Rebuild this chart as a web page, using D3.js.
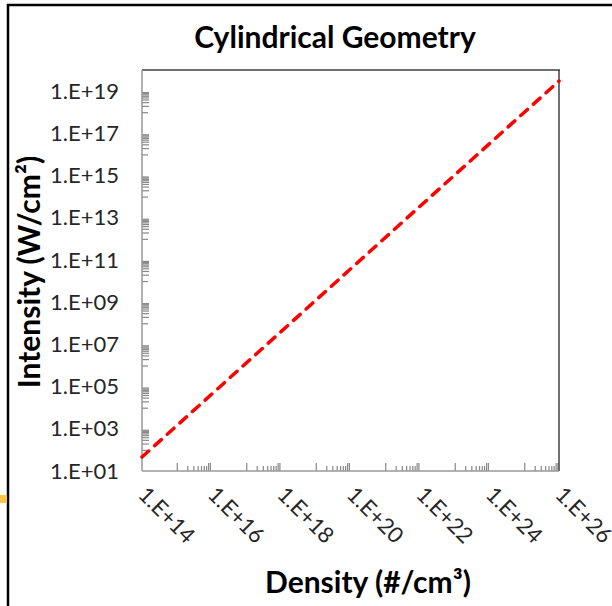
<!DOCTYPE html>
<html>
<head>
<meta charset="UTF-8">
<title>Cylindrical Geometry</title>
<script src="https://cdnjs.cloudflare.com/ajax/libs/d3/7.8.5/d3.min.js"></script>
<style>
    body { margin: 0; background: #fff; }
    svg { display: block; font-family: Lato, "Open Sans", sans-serif; }
    .tick-label { font-size: 22px; fill: #262626; }
    .axis-title { font-weight: bold; fill: #000; }
    .chart-title { font-size: 30px; font-weight: bold; fill: #000; }
    .minor line { stroke: #888; stroke-width: 1.2px; }
</style>
</head>
<body>
<div id="chart"></div>
<script>
// data
const densities = [1e14, 1e18, 1e22, 1e26];
const intensities = [46, 4.0e7, 3.5e13, 3.0e19];

const xMajorTicks = [1e14, 1e16, 1e18, 1e20, 1e22, 1e24, 1e26];
const yMajorTicks = [1e1, 1e3, 1e5, 1e7, 1e9, 1e11, 1e13, 1e15, 1e17, 1e19];

const width = 612, height = 606;
const plot = { left: 142, right: 559, top: 70, bottom: 471 };

const svg = d3.select("#chart").append("svg")
    .attr("width", width)
    .attr("height", height);

const x = d3.scaleLog().domain([1e14, 1e26]).range([plot.left, plot.right]);
const y = d3.scaleLog().domain([1e1, 1e20]).range([plot.bottom, plot.top]);

const fmt = v => {
    const e = Math.round(Math.log10(v));
    return "1.E+" + String(e).padStart(2, "0");
};

// outer frame bits
svg.append("line").attr("x1", 8).attr("x2", 8).attr("y1", 4).attr("y2", height)
    .attr("stroke", "#000").attr("stroke-width", 2.5);
svg.append("line").attr("x1", 7).attr("x2", width).attr("y1", 5).attr("y2", 5)
    .attr("stroke", "#000").attr("stroke-width", 2.5);
svg.append("rect").attr("x", 0).attr("y", 495).attr("width", 7).attr("height", 8)
    .attr("fill", "#fcc24a");

// minor ticks: 1..9 x 10^(e-1) below each labelled decade
const minorOf = majors => majors.slice(1).flatMap(m =>
    d3.range(1, 10).map(j => j * m / 10));

const xMinor = minorOf(xMajorTicks);
const yMinor = minorOf(yMajorTicks);
const mult = d => Math.round(d / Math.pow(10, Math.floor(Math.log10(d) + 1e-9)));

svg.append("g")
    .attr("class", "minor")
    .attr("transform", `translate(0,${plot.bottom})`)
    .call(d3.axisTop(x).tickValues(xMinor).tickSizeOuter(0).tickFormat(""))
    .call(g => g.select(".domain").remove())
    .selectAll(".tick line")
    .attr("y2", d => (mult(d) === 1 || mult(d) >= 8) ? -8 : -5);

svg.append("g")
    .attr("class", "minor")
    .attr("transform", `translate(${plot.left},0)`)
    .call(d3.axisRight(y).tickValues(yMinor).tickSizeOuter(0).tickFormat(""))
    .call(g => g.select(".domain").remove())
    .selectAll(".tick line")
    .attr("x2", d => mult(d) === 1 ? 6 : 7)
    .attr("stroke-width", d => mult(d) >= 6 ? 1.8 : 1.2);

// plot frame
svg.append("line").attr("x1", plot.left).attr("x2", plot.right + 1)
    .attr("y1", plot.top).attr("y2", plot.top)
    .attr("stroke", "#404040").attr("stroke-width", 1.5);
svg.append("line").attr("x1", plot.right).attr("x2", plot.right)
    .attr("y1", plot.top).attr("y2", plot.bottom)
    .attr("stroke", "#404040").attr("stroke-width", 1.5);
svg.append("line").attr("x1", plot.left).attr("x2", plot.left)
    .attr("y1", plot.top).attr("y2", plot.bottom)
    .attr("stroke", "#999").attr("stroke-width", 1.5);
svg.append("line").attr("x1", plot.left).attr("x2", plot.right)
    .attr("y1", plot.bottom).attr("y2", plot.bottom)
    .attr("stroke", "#999").attr("stroke-width", 1.5);

// y tick labels
svg.append("g")
    .selectAll("text")
    .data(yMajorTicks)
    .join("text")
    .attr("class", "tick-label")
    .attr("x", 119)
    .attr("y", d => y(d))
    .attr("dy", "0.35em")
    .attr("text-anchor", "end")
    .text(fmt);

// x tick labels, rotated
svg.append("g")
    .selectAll("text")
    .data(xMajorTicks)
    .join("text")
    .attr("class", "tick-label")
    .attr("transform", d => `translate(${x(d) - 5},${plot.bottom + 25}) rotate(45)`)
    .attr("text-anchor", "start")
    .text(fmt);

// the line
const line = d3.line()
    .x((d, i) => x(densities[i]))
    .y(d => y(d));

svg.append("path")
    .datum(intensities)
    .attr("d", line)
    .attr("fill", "none")
    .attr("stroke", "#ff0000")
    .attr("stroke-width", 3.5)
    .attr("stroke-linecap", "round")
    .attr("stroke-dasharray", "9,8");

// titles
svg.append("text")
    .attr("class", "chart-title")
    .attr("x", 335).attr("y", 48)
    .attr("text-anchor", "middle")
    .text("Cylindrical Geometry");

svg.append("text")
    .attr("class", "axis-title")
    .attr("font-size", 30)
    .attr("transform", "translate(40,272) rotate(-90)")
    .attr("text-anchor", "middle")
    .text("Intensity (W/cm²)");

svg.append("text")
    .attr("class", "axis-title")
    .attr("font-size", 30)
    .attr("x", 368).attr("y", 593)
    .attr("text-anchor", "middle")
    .text("Density (#/cm³)");
</script>
</body>
</html>
